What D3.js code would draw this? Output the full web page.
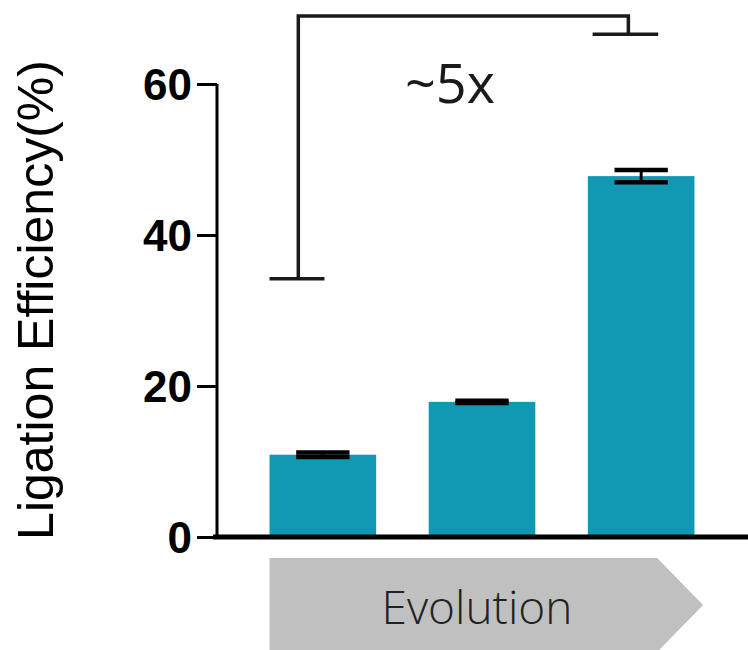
<!DOCTYPE html>
<meta charset="utf-8">
<script src="https://d3js.org/d3.v7.min.js"></script>
<style>
  body { margin: 0; background: #fff; }
</style>
<div id="my_dataviz"></div>
<script>

  // data
  var groups = ["g1", "g2", "g3"]
  var means = [10.9, 17.9, 47.8]
  var errs = [0.3, 0.15, 0.8]
  var yTicks = [0, 20, 40, 60]
  var yLabel = "Ligation Efficiency(%)"
  var foldLabel = "~5x"
  var arrowLabel = "Evolution"
  // bracket heights (in % units): left leg end, top line, right leg end
  var bracketY = [34.2, 69.0, 66.6]

  var width = 748, height = 650

  var svg = d3.select("#my_dataviz")
    .append("svg")
      .attr("width", width)
      .attr("height", height)

  var x = d3.scaleBand()
    .domain(groups)
    .range([217, 747])
    .padding(0.33)

  var y = d3.scaleLinear()
    .domain([0, 60])
    .range([537, 84])

  var barColor = "#1199b4"

  // evolution arrow (drawn first, sits under text)
  var bw = x.bandwidth()
  var ax0 = x(groups[0])
  var ax1 = x(groups[2]) + bw * 0.65
  var tipX = ax1 + 46
  var arrTop = 558, arrMid = 605, arrBot = 652
  svg.append("path")
    .attr("d", "M" + ax0 + "," + arrTop + "H" + ax1 + "L" + tipX + "," + arrMid +
               "L" + ax1 + "," + arrBot + "H" + ax0 + "Z")
    .attr("fill", "#c0c0c0")

  svg.append("text")
    .attr("x", 477)
    .attr("y", 624)
    .attr("text-anchor", "middle")
    .style("font-family", "'Open Sans', sans-serif")
    .style("font-weight", "300")
    .style("font-size", "46px")
    .attr("fill", "#222")
    .text(arrowLabel)

  // bars
  svg.selectAll(".bar")
    .data(groups)
    .enter()
    .append("rect")
      .attr("x", function(d) { return x(d) })
      .attr("y", function(d, i) { return y(means[i]) })
      .attr("width", bw)
      .attr("height", function(d, i) { return y(0) - y(means[i]) })
      .attr("fill", barColor)

  // error bars (caps + short stem)
  var capW = bw * 0.5
  groups.forEach(function(g, i) {
    var cx = x(g) + bw / 2
    var e = svg.append("g").attr("stroke", "#000").attr("stroke-width", 4.5)
    e.append("line")
      .attr("x1", cx).attr("x2", cx)
      .attr("y1", y(means[i] + errs[i])).attr("y2", y(means[i] - errs[i]))
      .attr("stroke-width", 3)
    e.append("line")
      .attr("x1", cx - capW / 2).attr("x2", cx + capW / 2)
      .attr("y1", y(means[i] + errs[i])).attr("y2", y(means[i] + errs[i]))
    e.append("line")
      .attr("x1", cx - capW / 2).attr("x2", cx + capW / 2)
      .attr("y1", y(means[i] - errs[i])).attr("y2", y(means[i] - errs[i]))
  })

  // y axis
  var yAxis = svg.append("g")
    .attr("transform", "translate(217,0)")
    .call(d3.axisLeft(y).tickValues(yTicks).tickSize(20).tickPadding(5))
  yAxis.select(".domain").attr("stroke", "#000").attr("stroke-width", 3)
    .attr("d", "M0," + y(0) + "V" + y(60))
  yAxis.selectAll(".tick line").attr("stroke", "#000").attr("stroke-width", 3)
  yAxis.selectAll(".tick text")
    .attr("fill", "#000")
    .style("font-family", "'Liberation Sans', Arial, sans-serif")
    .style("font-weight", "bold")
    .style("font-size", "44px")
    .attr("dy", "0.36em")

  // x axis line
  svg.append("line")
    .attr("x1", 213).attr("x2", width)
    .attr("y1", y(0)).attr("y2", y(0))
    .attr("stroke", "#000")
    .attr("stroke-width", 5)

  // y label
  svg.append("text")
    .attr("transform", "translate(53,300) rotate(-90)")
    .attr("text-anchor", "middle")
    .style("font-family", "'Liberation Sans', Arial, sans-serif")
    .style("font-size", "50px")
    .attr("fill", "#000")
    .text(yLabel)

  // significance bracket
  var lx = x(groups[0]) + bw * 0.27
  var rx = x(groups[2]) + bw * 0.38
  var bracket = svg.append("g")
    .attr("stroke", "#1a1a1a")
    .attr("stroke-width", 3.5)
    .attr("fill", "none")
  bracket.append("path")
    .attr("d", "M" + lx + "," + y(bracketY[0]) + "V" + y(bracketY[1]) +
               "H" + rx + "V" + y(bracketY[2]))
  bracket.append("line")
    .attr("x1", x(groups[0])).attr("x2", x(groups[0]) + bw * 0.515)
    .attr("y1", y(bracketY[0])).attr("y2", y(bracketY[0]))
  bracket.append("line")
    .attr("x1", rx - bw * 0.335).attr("x2", rx + bw * 0.28)
    .attr("y1", y(bracketY[2])).attr("y2", y(bracketY[2]))

  svg.append("text")
    .attr("x", 450)
    .attr("y", 103)
    .attr("text-anchor", "middle")
    .style("font-family", "'Open Sans', sans-serif")
    .style("font-size", "54px")
    .attr("fill", "#1a1a1a")
    .text(foldLabel)

</script>
